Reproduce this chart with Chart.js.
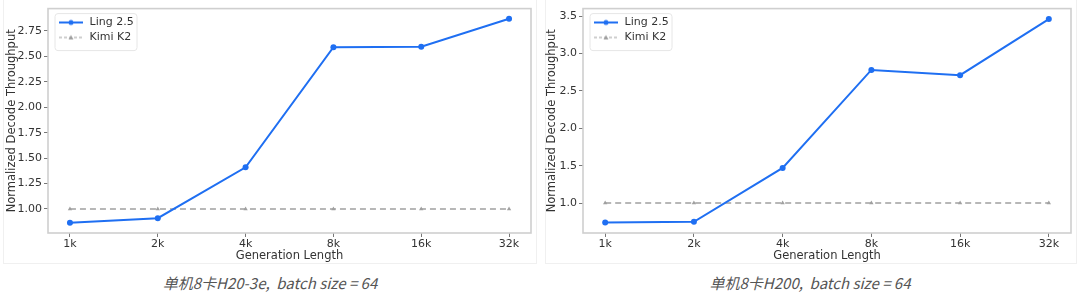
<!DOCTYPE html>
<html>
<head>
<meta charset="utf-8">
<script src="https://cdn.jsdelivr.net/npm/chart.js@4/dist/chart.umd.min.js"></script>
<style>
  html, body { margin: 0; padding: 0; background: #fff; }
  body { width: 1080px; height: 301px; position: relative; overflow: hidden; font-family: "DejaVu Sans", sans-serif; }
  .panel { position: absolute; top: 0; width: 540px; height: 266px; }
  .frame { position: absolute; top: 0; height: 263px; border: 1px solid #f0f0f0; border-top: none; }
  .caption { position: absolute; top: 272px; width: 540px; text-align: center; line-height: 22px; font-family: "Noto Sans CJK SC", sans-serif; font-style: italic; font-size: 15px; color: #555; }
</style>
</head>
<body>
<div class="frame" style="left:3px;width:532px"></div>
<div class="frame" style="left:545px;width:530px"></div>
<div class="panel" style="left:0"><canvas id="h20"></canvas></div>
<div class="panel" style="left:540px"><canvas id="h200"></canvas></div>
<div class="caption" style="left:0">单机8卡H20-3e,&nbsp;&nbsp;batch size = 64</div>
<div class="caption" style="left:540px">单机8卡H200,&nbsp;&nbsp;batch size = 64</div>
<script>
// generation lengths
var genLabels = ['1k', '2k', '4k', '8k', '16k', '32k'];

// left panel: H20-3e
var lingH20 = [0.864, 0.91, 1.41, 2.59, 2.595, 2.87];
var kimiH20 = [1, 1, 1, 1, 1, 1];
var ticksH20 = [1.00, 1.25, 1.50, 1.75, 2.00, 2.25, 2.50, 2.75];

// right panel: H200
var lingH200 = [0.74, 0.75, 1.47, 2.78, 2.71, 3.46];
var kimiH200 = [1, 1, 1, 1, 1, 1];
var ticksH200 = [1.0, 1.5, 2.0, 2.5, 3.0, 3.5];

var BLUE = '#1f6ff2';
var GREY = '#a0a0a0';
var TICK_FONT = { family: 'DejaVu Sans', size: 11 };
var TITLE_FONT = { family: 'DejaVu Sans', size: 11.5 };

function legendIcon(color, dash, marker) {
  var c = document.createElement('canvas');
  c.width = 26; c.height = 10;
  var g = c.getContext('2d');
  g.strokeStyle = color;
  g.lineWidth = dash ? 1.2 : 2;
  g.setLineDash(dash || []);
  g.beginPath(); g.moveTo(1, 5); g.lineTo(25, 5); g.stroke();
  g.setLineDash([]);
  g.fillStyle = color;
  g.beginPath();
  if (marker === 'circle') {
    g.arc(13, 5, 2.5, 0, Math.PI * 2);
  } else {
    g.moveTo(13, 2.5); g.lineTo(15.5, 7); g.lineTo(10.5, 7); g.closePath();
  }
  g.fill();
  return c;
}
var ICONS = [legendIcon(BLUE, null, 'circle'), legendIcon(GREY, [3, 2], 'triangle')];

function toPoints(arr) {
  return arr.map(function (v, i) { return { x: i, y: v }; });
}

// spines + legend frame, matplotlib style
var framePlugin = {
  id: 'frame',
  afterLayout: function (chart) {
    var lg = chart.legend;
    if (!lg) return;
    lg.left += 6; lg.right += 6;
    lg.top += 13; lg.bottom += 13;
  },
  afterDraw: function (chart) {
    var a = chart.chartArea, g = chart.ctx;
    g.save();
    g.strokeStyle = '#cfcfcf';
    g.lineWidth = 1.6;
    g.strokeRect(a.left, a.top, a.right - a.left, a.bottom - a.top);
    g.strokeStyle = '#e6e6e6';
    g.lineWidth = 1;
    g.beginPath();
    g.roundRect(a.left + 7, a.top + 5, 82, 37, 3);
    g.stroke();
    g.restore();
  }
};

function initPanel(id, ling, kimi, yTicks, yMin, yMax, yAxisWidth, decimals) {
  var ctx = document.getElementById(id).getContext('2d');
  return new Chart(ctx, {
    type: 'line',
    data: {
      datasets: [{
        label: 'Ling 2.5',
        data: toPoints(ling),
        borderColor: BLUE,
        backgroundColor: BLUE,
        borderWidth: 2,
        pointStyle: 'circle',
        pointRadius: 3,
        pointBorderWidth: 0,
        pointHoverRadius: 3,
        tension: 0,
      }, {
        label: 'Kimi K2',
        data: toPoints(kimi),
        borderColor: GREY,
        backgroundColor: GREY,
        borderWidth: 1.5,
        borderDash: [6, 4],
        pointRadius: 0,
        pointHoverRadius: 0,
        tension: 0,
      }, {
        label: 'kimi markers',
        data: toPoints(kimi),
        showLine: false,
        borderColor: GREY,
        backgroundColor: GREY,
        pointStyle: 'triangle',
        pointRadius: 2.5,
        pointBorderWidth: 0,
      }],
    },
    options: {
      responsive: true,
      maintainAspectRatio: false,
      animation: false,
      events: [],
      layout: { padding: { top: 5, right: 9, left: 0, bottom: 0 } },
      scales: {
        x: {
          type: 'linear',
          min: -0.25,
          max: 5.25,
          afterBuildTicks: function (s) {
            s.ticks = genLabels.map(function (_, i) { return { value: i }; });
          },
          afterFit: function (s) { s.height = 33; },
          grid: { drawOnChartArea: false, tickLength: 4, tickColor: '#777' },
          border: { display: false },
          ticks: {
            color: '#333', font: TICK_FONT, padding: 1, maxRotation: 0,
            callback: function (v) { return genLabels[v]; },
          },
          title: {
            display: true, text: 'Generation Length', color: '#333',
            font: TITLE_FONT, padding: { top: 0, bottom: 3 },
          },
        },
        y: {
          min: yMin,
          max: yMax,
          afterBuildTicks: function (s) {
            s.ticks = yTicks.map(function (v) { return { value: v }; });
          },
          afterFit: function (s) { s.width = yAxisWidth; },
          grid: { drawOnChartArea: false, tickLength: 4, tickColor: '#777' },
          border: { display: false },
          ticks: {
            color: '#333', font: TICK_FONT, padding: 2,
            callback: function (v) { return v.toFixed(decimals); },
          },
          title: {
            display: true, text: 'Normalized Decode Throughput', color: '#333',
            font: TITLE_FONT, padding: { top: 5, bottom: 0 },
          },
        },
      },
      plugins: {
        tooltip: { enabled: false },
        legend: {
          position: 'chartArea',
          align: 'start',
          labels: {
            usePointStyle: true,
            pointStyleWidth: 26,
            color: '#333',
            font: { family: 'DejaVu Sans', size: 11 },
            padding: 4,
            generateLabels: function (chart) {
              var items = Chart.defaults.plugins.legend.labels.generateLabels(chart);
              return items.filter(function (it) { return it.datasetIndex < 2; })
                .map(function (it) { it.pointStyle = ICONS[it.datasetIndex]; return it; });
            },
          },
        },
      },
    },
    plugins: [framePlugin],
  });
}

initPanel('h20', lingH20, kimiH20, ticksH20, 0.764, 2.97, 48, 2);
initPanel('h200', lingH200, kimiH200, ticksH200, 0.60, 3.60, 43, 1);
</script>
</body>
</html>
